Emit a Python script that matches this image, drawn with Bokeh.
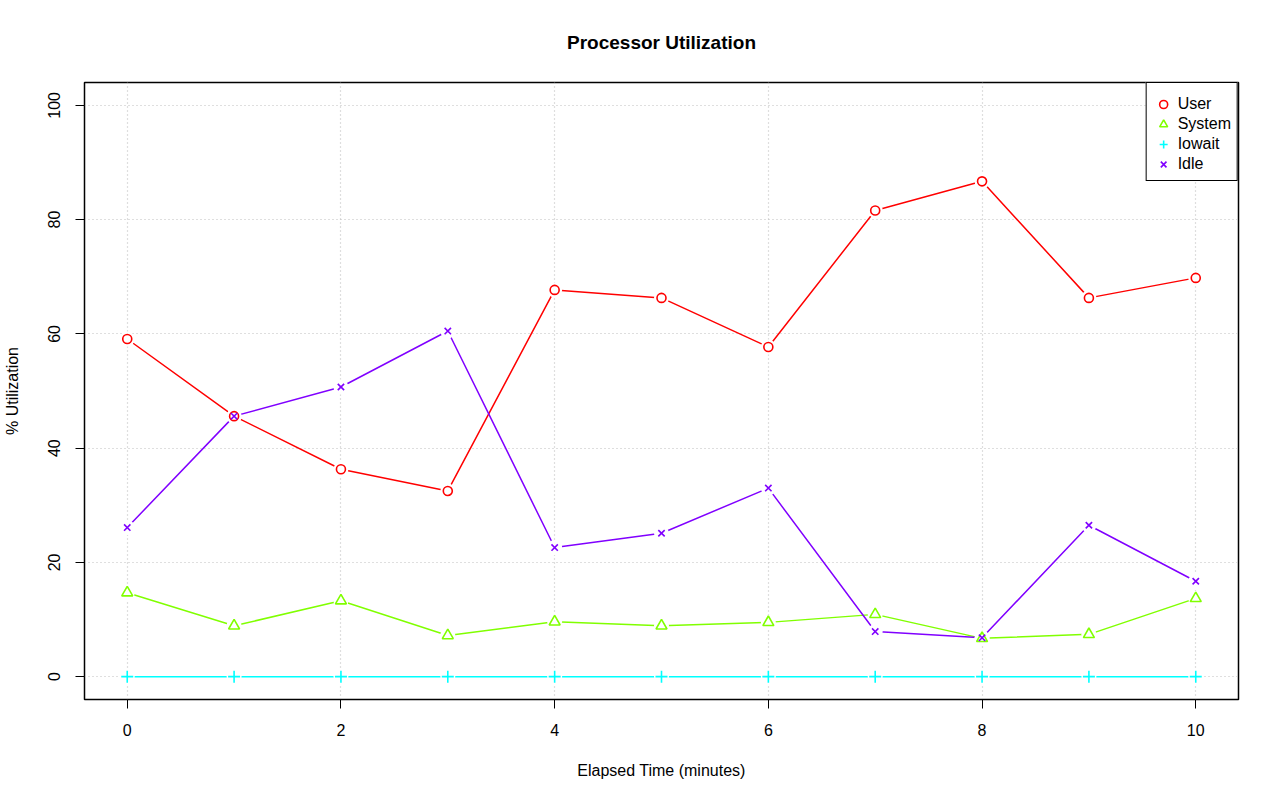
from bokeh.plotting import figure
from bokeh.models import FixedTicker, Legend, LegendItem, Range1d
from bokeh.embed import file_html
from bokeh.resources import INLINE

minutes = [0, 1, 2, 3, 4, 5, 6, 7, 8, 9, 10]
user = [59.1, 45.6, 36.3, 32.5, 67.7, 66.3, 57.7, 81.6, 86.7, 66.3, 69.8]
system = [14.7, 8.9, 13.3, 7.2, 9.6, 8.9, 9.5, 10.9, 6.7, 7.4, 13.7]
iowait = [0, 0, 0, 0, 0, 0, 0, 0, 0, 0, 0]
idle = [26.1, 45.6, 50.7, 60.5, 22.6, 25.1, 33.0, 7.9, 6.8, 26.5, 16.7]

series_names = ["User", "System", "Iowait", "Idle"]
series_colors = ["#FF0000", "#80FF00", "#00FFFF", "#8000FF"]
series_markers = ["circle", "triangle", "cross", "x"]
series_sizes = [9, 11, 12, 9]
series_values = [user, system, iowait, idle]

x_ticks = [0, 2, 4, 6, 8, 10]
y_ticks = [0, 20, 40, 60, 80, 100]

FONT = "Liberation Sans"

p = figure(width=1280, height=801, output_backend="svg", toolbar_location=None,
           x_range=Range1d(-0.4, 10.4), y_range=Range1d(-4, 104),
           min_border_left=82, min_border_right=42, min_border_top=82, min_border_bottom=102,
           title="Processor Utilization")

p.title.text_font = FONT
p.title.text_font_size = "19px"
p.title.text_font_style = "bold"
p.title.align = "center"
p.title.text_color = "black"
p.title.standoff = 59

p.outline_line_color = "black"
p.outline_line_width = 1.5
p.outline_line_alpha = 1.0
p.background_fill_color = "white"
p.border_fill_color = "white"

for ax, ticks, bounds in ((p.xaxis[0], x_ticks, (0, 10)), (p.yaxis[0], y_ticks, (0, 100))):
    ax.ticker = FixedTicker(ticks=ticks)
    ax.bounds = bounds
    ax.axis_line_color = "black"
    ax.axis_line_width = 1
    ax.major_tick_line_color = "black"
    ax.major_tick_line_width = 1
    ax.major_tick_in = 0
    ax.major_tick_out = 9
    ax.minor_tick_line_color = None
    ax.major_label_text_font = FONT
    ax.major_label_text_font_size = "16px"
    ax.major_label_text_color = "black"
    ax.axis_label_text_font = FONT
    ax.axis_label_text_font_size = "16px"
    ax.axis_label_text_font_style = "normal"
    ax.axis_label_text_color = "black"

p.xaxis[0].axis_label = "Elapsed Time (minutes)"
p.xaxis[0].major_label_standoff = 15
p.xaxis[0].axis_label_standoff = 23
p.yaxis[0].axis_label = "% Utilization"
p.yaxis[0].major_label_orientation = "vertical"
p.yaxis[0].major_label_standoff = 15
p.yaxis[0].axis_label_standoff = 25

for g, ticks in ((p.xgrid[0], x_ticks), (p.ygrid[0], y_ticks)):
    g.ticker = FixedTicker(ticks=ticks)
    g.grid_line_color = "#BEBEBE"
    g.grid_line_dash = "1 3"
    g.grid_line_width = 1.2

# lines
for vals, col in zip(series_values, series_colors):
    p.line(minutes, vals, line_color=col, line_width=1.5)

# gaps around points (type "b")
for vals in series_values:
    p.scatter(minutes, vals, marker="circle", size=15, fill_color="white",
              line_color=None)

items = []
for name, vals, col, mk, sz in zip(series_names, series_values, series_colors,
                                    series_markers, series_sizes):
    r = p.scatter(minutes, vals, marker=mk, size=sz, fill_color=None,
                  line_color=col, line_width=1.6)
    items.append(LegendItem(label=name, renderers=[r]))

legend = Legend(items=items, location="top_right")
legend.margin = 0
legend.padding = 6
legend.spacing = 0
legend.title = " "
legend.title_text_font_size = "2px"
legend.title_standoff = 3
legend.border_line_color = "black"
legend.border_line_width = 1.5
legend.border_line_alpha = 1.0
legend.background_fill_color = "white"
legend.background_fill_alpha = 1.0
legend.label_text_font = FONT
legend.label_text_font_size = "16px"
legend.label_text_color = "black"
legend.label_height = 20
legend.glyph_height = 20
legend.glyph_width = 21
legend.label_standoff = 4
p.add_layout(legend, "center")

open("out.html", "w").write(file_html(p, INLINE))
